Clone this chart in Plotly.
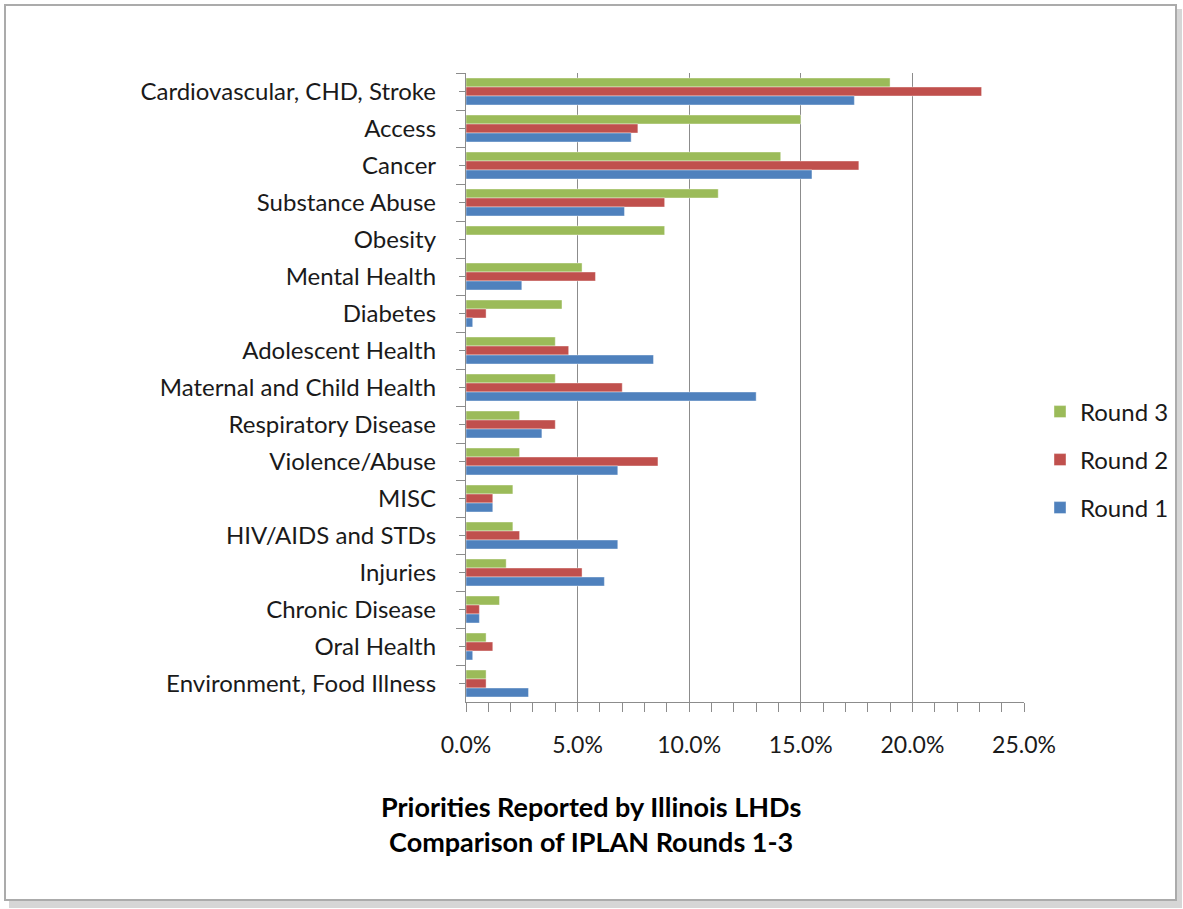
import plotly.graph_objects as go

categories = ["Cardiovascular, CHD, Stroke", "Access", "Cancer", "Substance Abuse", "Obesity",
              "Mental Health", "Diabetes", "Adolescent Health", "Maternal and Child Health",
              "Respiratory Disease", "Violence/Abuse", "MISC", "HIV/AIDS and STDs", "Injuries",
              "Chronic Disease", "Oral Health", "Environment, Food Illness"]

round3 = [19.0, 15.0, 14.1, 11.3, 8.9, 5.2, 4.3, 4.0, 4.0, 2.4, 2.4, 2.1, 2.1, 1.8, 1.5, 0.9, 0.9]
round2 = [23.1, 7.7, 17.6, 8.9, 0.0, 5.8, 0.9, 4.6, 7.0, 4.0, 8.6, 1.2, 2.4, 5.2, 0.6, 1.2, 0.9]
round1 = [17.4, 7.4, 15.5, 7.1, 0.0, 2.5, 0.3, 8.4, 13.0, 3.4, 6.8, 1.2, 6.8, 6.2, 0.6, 0.3, 2.8]

series_names = ["Round 3", "Round 2", "Round 1"]
series_values = [round3, round2, round1]
series_colors = ["#9bbb59", "#c0504d", "#4f81bd"]

x_ticks = [0, 5, 10, 15, 20, 25]
x_tick_labels = ["0.0%", "5.0%", "10.0%", "15.0%", "20.0%", "25.0%"]

title_lines = ["Priorities Reported by Illinois LHDs", "Comparison of IPLAN Rounds 1-3"]

W, H = 1183, 909
L, R, T, B = 466, 1024, 73, 702

font = "Lato, 'Open Sans', sans-serif"


def px_to_paper_x(p):
    return (p - L) / (R - L)


def px_to_paper_y(p):
    return (B - p) / (B - T)


legend_names = ["legend", "legend2", "legend3"]
legend_y_px = [412, 460, 508]

fig = go.Figure()
for name, vals, col, lg in zip(series_names, series_values, series_colors, legend_names):
    fig.add_trace(go.Bar(
        y=categories, x=vals, name=name, orientation="h", legend=lg,
        marker=dict(color=col, line=dict(color="rgba(255,255,255,0.5)", width=0.8)),
    ))

# invisible trace carrying the short centre ticks of the category axis
fig.add_trace(go.Scatter(y=categories, x=[0] * len(categories), yaxis="y2", mode="markers",
                         marker=dict(opacity=0), showlegend=False, hoverinfo="skip"))

shapes = [
    dict(type="rect", xref="paper", yref="paper",
         x0=px_to_paper_x(9), x1=px_to_paper_x(1182), y0=px_to_paper_y(908), y1=px_to_paper_y(9),
         fillcolor="#d6d6d6", line=dict(width=0), layer="below"),
    dict(type="rect", xref="paper", yref="paper",
         x0=px_to_paper_x(5), x1=px_to_paper_x(1176), y0=px_to_paper_y(900), y1=px_to_paper_y(5),
         fillcolor="white", line=dict(color="#ababab", width=2), layer="below"),
]

legend_common = dict(xanchor="left", yanchor="middle", font=dict(size=24, color="#1a1a1a"),
                     itemwidth=30, bgcolor="rgba(0,0,0,0)", x=px_to_paper_x(1040))

layout_legends = {}
for lg, ypx in zip(legend_names, legend_y_px):
    layout_legends[lg] = dict(legend_common, y=px_to_paper_y(ypx))

n = len(categories)
y_range = [n - 0.5, -0.5]

fig.update_layout(
    width=W, height=H,
    margin=dict(l=L, r=W - R, t=T, b=H - B, pad=0, autoexpand=False),
    paper_bgcolor="white", plot_bgcolor="rgba(0,0,0,0)",
    barmode="group", bargap=0.27, bargroupgap=0,
    font=dict(family=font, size=24, color="#1a1a1a"),
    shapes=shapes,
    xaxis=dict(
        range=[0, 25], tickvals=x_ticks, ticktext=x_tick_labels,
        showgrid=True, gridcolor="#8c8c8c", gridwidth=1.3,
        showline=True, linecolor="#8c8c8c", linewidth=1.3,
        ticks="outside", ticklen=9, tickcolor="#8c8c8c", tickwidth=1.3,
        minor=dict(dtick=1, ticks="outside", ticklen=9, tickcolor="#8c8c8c", tickwidth=1.3, showgrid=False),
        ticklabelstandoff=13, zeroline=False,
        tickfont=dict(size=23, color="#1a1a1a"),
    ),
    yaxis=dict(
        categoryorder="array", categoryarray=categories, range=y_range,
        showline=True, linecolor="#8c8c8c", linewidth=1.3,
        ticks="outside", tickson="boundaries", ticklen=9, tickcolor="#8c8c8c", tickwidth=1.3,
        ticklabelstandoff=24, showgrid=False,
        tickfont=dict(size=24, color="#1a1a1a"),
    ),
    yaxis2=dict(
        overlaying="y", categoryorder="array", categoryarray=categories, range=y_range,
        showline=False, ticks="outside", ticklen=6, tickcolor="#8c8c8c", tickwidth=1.3,
        showticklabels=False, showgrid=False, side="left",
    ),
    annotations=[
        dict(text="<b>" + title_lines[0] + "</b><br><b>" + title_lines[1] + "</b>",
             xref="paper", yref="paper", x=px_to_paper_x(591), y=px_to_paper_y(824),
             xanchor="center", yanchor="middle", showarrow=False,
             font=dict(size=27, color="#000000", family=font)),
    ],
    showlegend=True,
    **layout_legends,
)

fig.write_html("out.html", config={"displayModeBar": False},
               post_script="document.body.style.margin='0';")
